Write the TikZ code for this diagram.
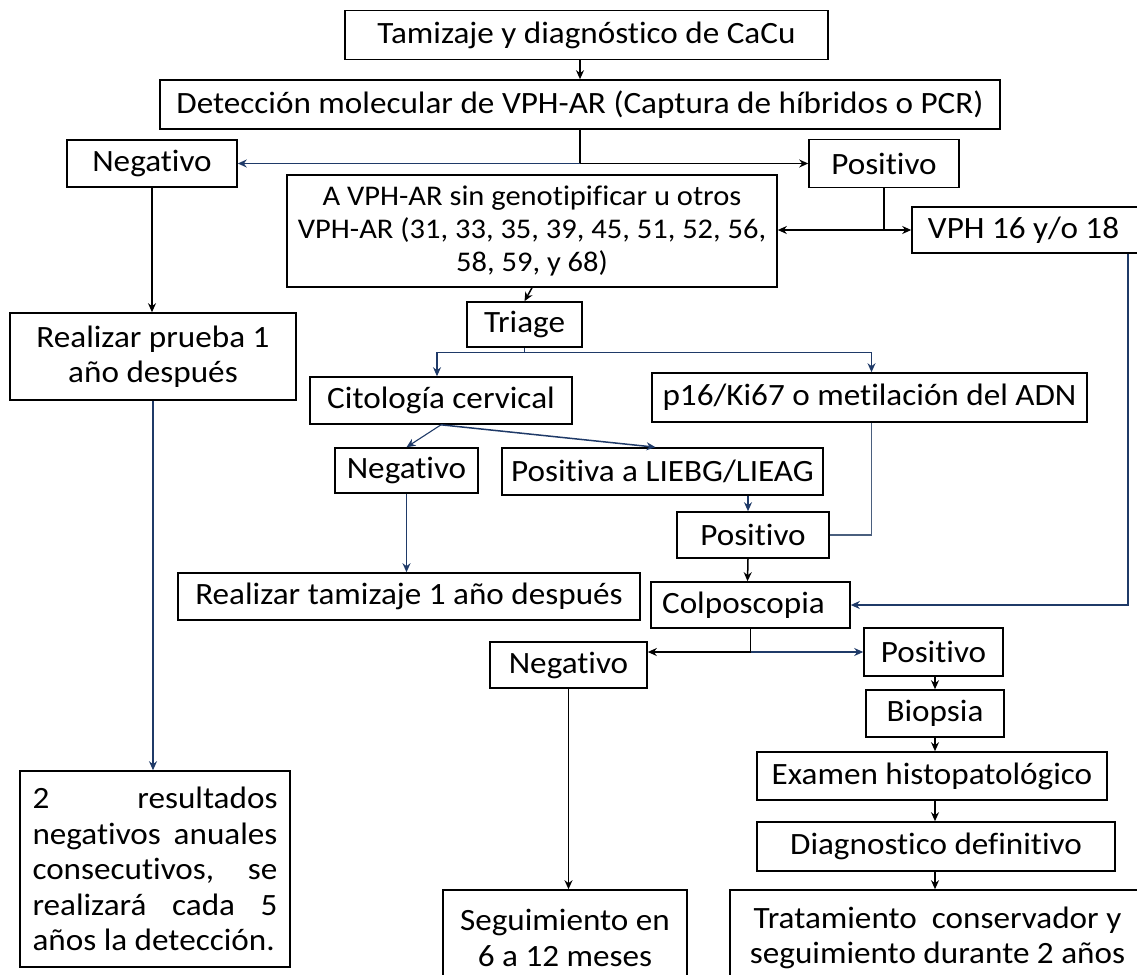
\documentclass[tikz,border=0pt]{standalone}
\usepackage{fontspec}
\setmainfont{Carlito}[FakeStretch=1.07, Ligatures={NoCommon}]
\usetikzlibrary{arrows.meta,calc,positioning}
\definecolor{cacuNavy}{HTML}{1F3A68}
\definecolor{cacuSlate}{HTML}{4A5F7E}
\tikzset{
  flow/.style={-{Stealth[length=9pt,width=8pt]}, line width=1.5pt, draw=black},
  navy flow/.style={flow, draw=cacuNavy},
  link/.style={line width=1.5pt, draw=black},
  flow box/.style={draw=black, line width=1.6pt, fill=white, align=center,
    inner sep=0pt, font=\fontsize{31}{35.5}\selectfont}
}

\begin{document}
\begin{tikzpicture}[x=1pt, y=-1pt]
  \useasboundingbox (0,0) rectangle (1137,974);
  \clip (0,0) rectangle (1137,974);
  % top of the flow
  \node[flow box, minimum width=483, minimum height=49] (tami) at (586.5,35)
    {Tamizaje y diagnóstico de CaCu};
  \node[flow box, minimum width=840, minimum height=49] (dete) at (580,104.5)
    {Detección molecular de VPH-AR (Captura de híbridos o PCR)};
  \node[flow box, minimum width=170, minimum height=47] (neg1) at (152,163.5)
    {Negativo};
  \node[flow box, minimum width=150, minimum height=48] (pos1) at (884,163.5)
    {Positivo};
  \node[flow box, minimum width=490, minimum height=112,
    font=\fontsize{28.5}{33}\selectfont] (vphar) at (532,231)
    {A VPH-AR sin genotipificar u otros\\
     VPH-AR (31, 33, 35, 39, 45, 51, 52, 56,\\
     58, 59, y 68)};
  \node[flow box, minimum width=233, minimum height=46] (vph16) at (1028.5,230)
    {\hspace*{-10pt}VPH 16 y/o 18};
  \node[flow box, minimum width=286, minimum height=87] (rpru) at (153,356.5)
    {Realizar prueba 1\\año después};
  \node[flow box, minimum width=115, minimum height=45] (triage) at (524.5,324.5)
    {Triage};
  % triage branches
  \node[flow box, minimum width=262, minimum height=47] (cito) at (441,400.5)
    {Citología cervical};
  \node[flow box, minimum width=435, minimum height=49] (p16) at (869.5,397.5)
    {p16/Ki67 o metilación del ADN};
  \node[flow box, minimum width=143, minimum height=45] (neg2) at (406.5,470.5)
    {Negativo};
  \node[flow box, minimum width=321, minimum height=47] (posi) at (662.5,471.5)
    {Positiva a LIEBG/LIEAG};
  \node[flow box, minimum width=152, minimum height=46] (pos2) at (753,535)
    {Positivo};
  \node[flow box, minimum width=462, minimum height=47] (rtam) at (409,596.5)
    {Realizar tamizaje 1 año después};
  \node[flow box, minimum width=199, minimum height=46] (colpo) at (750.5,605)
    {\hspace*{-14pt}Colposcopia};
  % colposcopia branches
  \node[flow box, minimum width=157, minimum height=46] (neg3) at (568.5,665)
    {Negativo};
  \node[flow box, minimum width=139, minimum height=48] (pos3) at (933.5,652)
    {Positivo};
  \node[flow box, minimum width=138, minimum height=47] (biop) at (935,713.5)
    {Biopsia};
  \node[flow box, minimum width=350, minimum height=48] (exam) at (932,776)
    {Examen histopatológico};
  \node[flow box, minimum width=358, minimum height=49] (diag) at (936,846.5)
    {Diagnostico definitivo};
  \node[flow box, minimum width=244, minimum height=96] (segu) at (565,938)
    {Seguimiento en\\6 a 12 meses};
  \node[flow box, minimum width=415, minimum height=96] (trat) at (937.5,938)
    {Tratamiento\ \ conservador y\\seguimiento durante 2 años};
  \node[flow box, align=justify, text width=245, inner xsep=12.5,
    minimum height=196] (resu) at (155,869)
    {2\hfill resultados\\ negativos\hfill anuales\\ consecutivos,\hfill se\\
     realizará\hfill cada\hfill 5\\ años la detección.};

  % connectors
  \draw[flow] (dete.north |- tami.south) -- (dete.north);
  \coordinate (detsplit) at (dete.south |- neg1.east);
  \draw[link] (dete.south) -- (detsplit);
  \draw[navy flow] (detsplit) -- (neg1.east);
  \draw[flow] (detsplit) -- (pos1.west);
  \coordinate (possplit) at (pos1.south |- vph16.west);
  \draw[link] (pos1.south) -- (possplit);
  \draw[flow] (possplit) -- (vphar.east |- possplit);
  \draw[flow] (possplit) -- (vph16.west);
  \draw[flow] (neg1.south) -- (neg1.south |- rpru.north);
  \draw[navy flow] (rpru.south) -- (rpru.south |- resu.north);
  \draw[flow] (vphar.south) -- (triage.north);
  \draw[link, draw=cacuNavy, line width=1.2pt] (triage.south) -- ++(0,5) coordinate (trsplit);
  \draw[navy flow, line width=1.2pt] (trsplit) -| ($(cito.north)+(-4,0)$);
  \draw[navy flow, line width=1.2pt] (trsplit) -| ($(p16.north)+(2,0)$);
  \draw[navy flow, line width=1.1pt] (cito.south) -- (neg2.north);
  \draw[navy flow] (cito.south) -- ($(posi.north)+(-7,0)$);
  \draw[navy flow] (neg2.south) -- (neg2.south |- rtam.north);
  \draw[navy flow] ($(pos2.north |- posi.south)+(-5,0)$) -- ($(pos2.north)+(-5,0)$);
  \draw[link, draw=cacuSlate, line width=1.1pt] ($(p16.south)+(2,0)$) |- (pos2.east);
  \draw[flow] ($(pos2.south)+(-5,0)$) -- ($(colpo.north)+(-3,0)$);
  \coordinate (vphcorner) at (1128,605);
  \draw[navy flow] (vph16.south -| vphcorner) -- (vphcorner) -- (colpo.east);
  \coordinate (colsplit) at (colpo.south |- pos3.west);
  \draw[link] (colpo.south) -- (colsplit);
  \draw[flow] (colsplit) -- (colsplit -| neg3.east);
  \draw[navy flow] (colsplit) -- (pos3.west);
  \draw[flow] ($(pos3.south)+(1.5,0)$) -- ($(pos3.south |- biop.north)+(1.5,0)$);
  \draw[flow] (biop.south) -- (biop.south |- exam.north);
  \draw[flow] (biop.south |- exam.south) -- (biop.south |- diag.north);
  \draw[flow] (biop.south |- diag.south) -- (biop.south |- trat.north);
  \draw[flow] (neg3.south) -- (neg3.south |- segu.north);
\end{tikzpicture}
\end{document}
